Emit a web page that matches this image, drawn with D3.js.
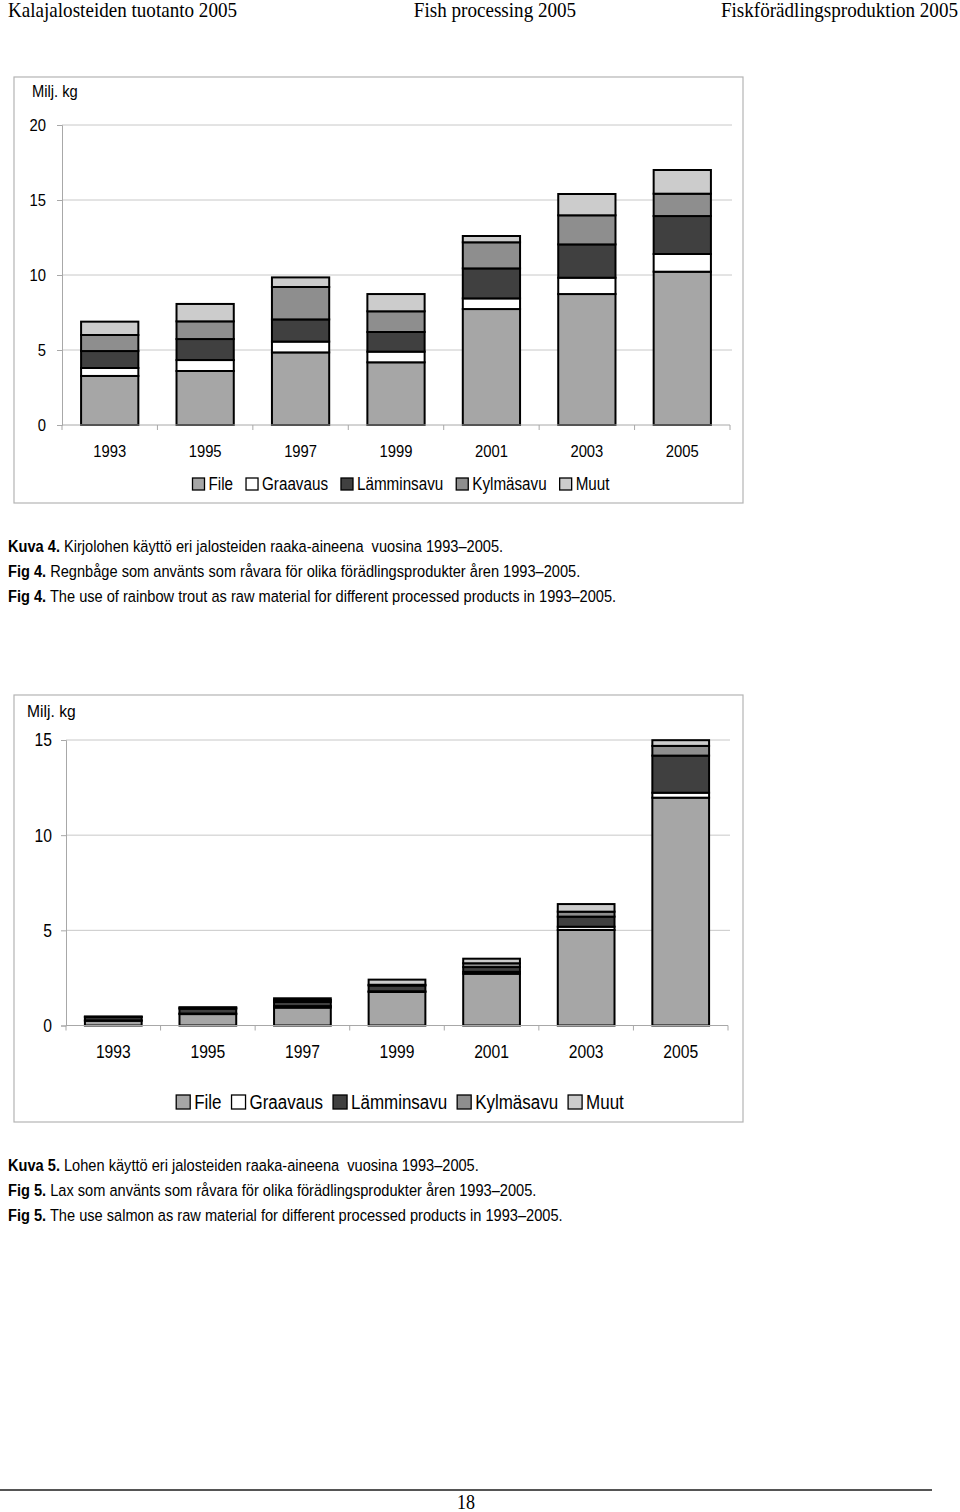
<!DOCTYPE html>
<html lang="fi">
<head>
<meta charset="utf-8">
<title>Kalajalosteiden tuotanto 2005</title>
<script src="https://d3js.org/d3.v7.min.js"></script>
<style>
  body { margin: 0; background: #fff; }
  svg { display: block; }
  .sans { font-family: 'Liberation Sans', Arial, sans-serif; }
  .serif { font-family: 'Liberation Serif', 'DejaVu Serif', serif; }
</style>
</head>
<body>
<svg id="sivu" width="960" height="1512"></svg>
<script>
// --- data ---
const vuodet = ['1993', '1995', '1997', '1999', '2001', '2003', '2005'];
const sarjat = ['File', 'Graavaus', 'Lämminsavu', 'Kylmäsavu', 'Muut'];
const varit = ['#a6a6a6', '#ffffff', '#404040', '#8e8e8e', '#cccccc'];

// Kuva 4: kirjolohi (milj. kg)
const kirjolohiFile       = [3.27, 3.60, 4.84, 4.18, 7.73, 8.73, 10.22];
const kirjolohiGraavaus   = [0.53, 0.73, 0.72, 0.71, 0.71, 1.09, 1.18];
const kirjolohiLamminsavu = [1.13, 1.40, 1.48, 1.31, 2.00, 2.22, 2.53];
const kirjolohiKylmasavu  = [1.07, 1.18, 2.16, 1.38, 1.74, 1.94, 1.49];
const kirjolohiMuut       = [0.89, 1.16, 0.64, 1.15, 0.42, 1.42, 1.58];
const ticks4 = [0, 5, 10, 15, 20];

// Kuva 5: lohi (milj. kg)
const lohiFile       = [0.25, 0.60, 0.94, 1.76, 2.72, 5.02, 11.97];
const lohiGraavaus   = [0.02, 0.03, 0.08, 0.04, 0.10, 0.17, 0.26];
const lohiLamminsavu = [0.17, 0.25, 0.22, 0.30, 0.25, 0.53, 1.95];
const lohiKylmasavu  = [0.02, 0.05, 0.10, 0.04, 0.20, 0.26, 0.51];
const lohiMuut       = [0.01, 0.03, 0.09, 0.27, 0.24, 0.40, 0.30];
const ticks5 = [0, 5, 10, 15];

const kapea = 0.87;   // narrow look for the sans text
const svg = d3.select('#sivu');

// text squeezed horizontally around its anchor point
function teksti(p, x, y, s, koko, ankkuri, sx) {
  return p.append('text')
    .attr('transform', `translate(${x},${y}) scale(${sx || kapea},1)`)
    .attr('font-size', koko)
    .attr('text-anchor', ankkuri || 'start')
    .text(s);
}

// header
const ylaotsikko = svg.append('g').attr('class', 'serif').attr('fill', '#000');
teksti(ylaotsikko, 8, 17, 'Kalajalosteiden tuotanto 2005', 20, 'start', 0.955);
teksti(ylaotsikko, 495, 17, 'Fish processing 2005', 20, 'middle', 0.955);
teksti(ylaotsikko, 958, 17, 'Fiskförädlingsproduktion 2005', 20, 'end', 0.955);

function taulukko(arvot) {
  return vuodet.map((v, i) => {
    const rivi = { vuosi: v };
    sarjat.forEach((s, j) => rivi[s] = arvot[j][i]);
    return rivi;
  });
}

function piirra(o) {
  const g = svg.append('g').attr('class', 'sans');
  g.append('rect')
    .attr('x', o.kehys[0]).attr('y', o.kehys[1])
    .attr('width', o.kehys[2]).attr('height', o.kehys[3])
    .attr('fill', 'none').attr('stroke', '#b4b4b4').attr('stroke-width', 1.2);

  const x = d3.scaleBand().domain(vuodet).range([o.x0, o.x1]).paddingInner(0.4).paddingOuter(0.2);
  const y = d3.scaleLinear().domain([0, d3.max(o.ticks)]).range([o.y0, o.y1]);

  // gridlines
  g.selectAll('.grid').data(o.ticks.slice(1)).enter().append('line')
    .attr('x1', o.x0).attr('x2', o.x1 + 2)
    .attr('y1', d => y(d)).attr('y2', d => y(d))
    .attr('stroke', '#c8c8c8').attr('stroke-width', 1);

  // y axis
  const ya = g.append('g').attr('transform', `translate(${o.x0},0)`)
    .call(d3.axisLeft(y).tickValues(o.ticks).tickSize(5).tickFormat(''));
  ya.select('.domain').attr('stroke', '#a8a8a8');
  ya.selectAll('.tick line').attr('stroke', '#a8a8a8');
  o.ticks.forEach(t => teksti(g, o.x0 - o.tickPad, y(t) + o.fs * 0.36, String(t), o.fs, 'end'));

  teksti(g, o.miljX, o.miljY, 'Milj. kg', o.fs - 1, 'start', 0.92);

  // bars
  const pino = d3.stack().keys(sarjat)(taulukko(o.arvot));
  const vari = d3.scaleOrdinal().domain(sarjat).range(varit);
  g.selectAll('.sarja').data(pino).enter().append('g')
    .attr('fill', d => vari(d.key))
    .selectAll('rect').data(d => d).enter().append('rect')
    .attr('x', d => x(d.data.vuosi))
    .attr('width', x.bandwidth())
    .attr('y', d => y(d[1]))
    .attr('height', d => y(d[0]) - y(d[1]))
    .attr('stroke', '#000').attr('stroke-width', 2);

  // x axis
  g.append('line').attr('x1', o.x0).attr('x2', o.x1).attr('y1', o.y0).attr('y2', o.y0)
    .attr('stroke', '#a8a8a8');
  const askel = x.step();
  g.selectAll('.xt').data(d3.range(vuodet.length + 1)).enter().append('line')
    .attr('x1', i => o.x0 + i * askel).attr('x2', i => o.x0 + i * askel)
    .attr('y1', o.y0).attr('y2', o.y0 + 5).attr('stroke', '#a8a8a8');
  vuodet.forEach(v => teksti(g, x(v) + x.bandwidth() / 2, o.xlY, v, o.fs, 'middle'));

  // legend
  const lg = g.append('g');
  let px = 0;
  sarjat.forEach((s, i) => {
    const e = lg.append('g').attr('transform', `translate(${px},0)`);
    e.append('rect').attr('x', 0).attr('y', -o.sw / 2).attr('width', o.sw).attr('height', o.sw)
      .attr('fill', varit[i]).attr('stroke', '#000').attr('stroke-width', 1.3);
    const t = teksti(e, o.sw + 4, o.lfs * 0.36, s, o.lfs, 'start');
    px += o.sw + 4 + t.node().getComputedTextLength() * kapea + o.vali;
  });
  lg.attr('transform', `translate(${o.legKesk - (px - o.vali) / 2},${o.legY})`);

  // caption
  const k = svg.append('g').attr('class', 'sans');
  o.teksti.forEach((r, i) => {
    const t = teksti(k, 8, o.kapY + i * 25, '', 16.5, 'start', 0.885);
    t.append('tspan').attr('font-weight', 'bold').text(r[0]);
    t.append('tspan').text(r[1]);
  });
}

piirra({
  kehys: [14, 77, 729, 426],
  x0: 62, x1: 730, y0: 425, y1: 125,
  ticks: ticks4, arvot: [kirjolohiFile, kirjolohiGraavaus, kirjolohiLamminsavu, kirjolohiKylmasavu, kirjolohiMuut],
  fs: 17, tickPad: 16, miljX: 32, miljY: 97, xlY: 457,
  sw: 12, lfs: 17.5, vali: 13, legKesk: 401, legY: 484,
  kapY: 552,
  teksti: [
    ['Kuva 4.', ' Kirjolohen käyttö eri jalosteiden raaka-aineena\u00a0 vuosina 1993\u20132005.'],
    ['Fig 4.', ' Regnbåge som använts som råvara för olika förädlingsprodukter åren 1993\u20132005.'],
    ['Fig 4.', ' The use of rainbow trout as raw material for different processed products in 1993\u20132005.']
  ]
});

piirra({
  kehys: [14, 695, 729, 427],
  x0: 66, x1: 728, y0: 1025.5, y1: 740,
  ticks: ticks5, arvot: [lohiFile, lohiGraavaus, lohiLamminsavu, lohiKylmasavu, lohiMuut],
  fs: 18, tickPad: 14, miljX: 27, miljY: 717, xlY: 1058,
  sw: 14, lfs: 19.5, vali: 10, legKesk: 400, legY: 1102,
  kapY: 1171,
  teksti: [
    ['Kuva 5.', ' Lohen käyttö eri jalosteiden raaka-aineena\u00a0 vuosina 1993\u20132005.'],
    ['Fig 5.', ' Lax som använts som råvara för olika förädlingsprodukter åren 1993\u20132005.'],
    ['Fig 5.', ' The use salmon as raw material for different processed products in 1993\u20132005.']
  ]
});

// footer
svg.append('line').attr('x1', 0).attr('x2', 932).attr('y1', 1490).attr('y2', 1490)
  .attr('stroke', '#555').attr('stroke-width', 2);
teksti(svg.append('g').attr('class', 'serif'), 466, 1509, '18', 20, 'middle', 0.9);
</script>
</body>
</html>
